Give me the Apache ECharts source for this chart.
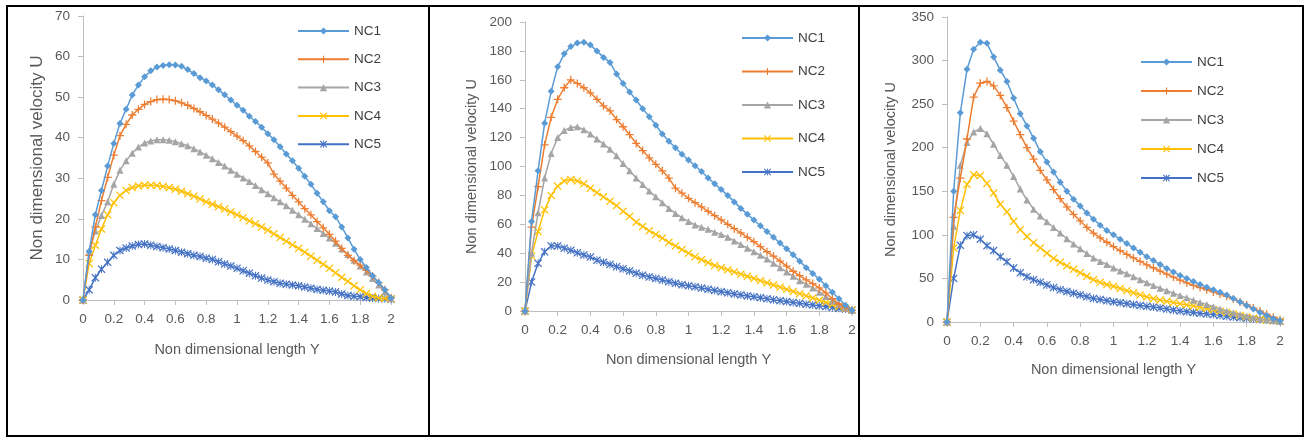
<!DOCTYPE html>
<html>
<head>
<meta charset="utf-8">
<script src="https://cdn.jsdelivr.net/npm/echarts@6/dist/echarts.min.js"></script>
<style>
  html, body { margin: 0; padding: 0; background: #fff; }
  #chart { width: 1306px; height: 439px; }
</style>
</head>
<body>
<div id="chart"></div>
<script>
// x positions (non dimensional length Y)
const xValues = [0, 0.04, 0.08, 0.12, 0.16, 0.2, 0.24, 0.28, 0.32, 0.36, 0.4, 0.44, 0.48, 0.52, 0.56, 0.6, 0.64, 0.68, 0.72, 0.76,
  0.8, 0.84, 0.88, 0.92, 0.96, 1, 1.04, 1.08, 1.12, 1.16, 1.2, 1.24, 1.28, 1.32, 1.36, 1.4, 1.44, 1.48, 1.52, 1.56,
  1.6, 1.64, 1.68, 1.72, 1.76, 1.8, 1.84, 1.88, 1.92, 1.96, 2]

const seriesNames = ['NC1', 'NC2', 'NC3', 'NC4', 'NC5']

// panel 1
const p1NC1 = [0, 12, 21, 27, 33, 38.6, 43.5, 47, 50.5, 53, 55, 56.5, 57.4, 57.8, 58, 57.9, 57.6, 56.8, 55.8, 54.8, 54, 53, 51.8, 50.6, 49.3, 48, 46.8, 45.3, 44, 42.6, 41, 39.5, 37.8, 36, 34.3, 32.5, 30.5, 28.5, 26.3, 24.2, 22, 20.5, 18, 15.3, 12.5, 10, 8, 6, 4.3, 2.5, 0.5]
const p1NC2 = [0, 11, 18, 24.5, 30.2, 35.7, 40.5, 43.3, 45.6, 47, 48.2, 48.9, 49.4, 49.5, 49.4, 49.1, 48.6, 48, 47.2, 46.4, 45.5, 44.6, 43.6, 42.6, 41.5, 40.4, 39.3, 38, 36.6, 35.2, 33.8, 31, 29.3, 27.6, 25.8, 24.2, 22.5, 21, 19.3, 17.8, 16.2, 14.5, 12.7, 11, 9.7, 8.6, 7.3, 5.9, 4.3, 2.5, 0.5]
const p1NC3 = [0, 12, 17, 20.8, 24.2, 28.5, 32, 34.3, 36.2, 37.7, 38.7, 39.2, 39.5, 39.5, 39.4, 39, 38.5, 38, 37.3, 36.5, 35.7, 34.8, 33.9, 33, 32, 31, 30.1, 29.2, 28.2, 27.2, 26.2, 25.2, 24.2, 23.2, 22.1, 21, 19.9, 18.8, 17.6, 16.4, 15.3, 14, 12.6, 11.2, 9.8, 8.4, 6.9, 5.3, 3.7, 2, 0.5]
const p1NC4 = [0, 9, 13.5, 17.5, 21, 24, 25.8, 27, 27.7, 28.1, 28.3, 28.3, 28.2, 28, 27.7, 27.3, 26.8, 26.2, 25.6, 24.9, 24.2, 23.6, 23, 22.4, 21.7, 21, 20.3, 19.5, 18.8, 18, 17.2, 16.3, 15.4, 14.5, 13.6, 12.7, 11.8, 10.8, 9.8, 8.8, 7.8, 6.7, 5.6, 4.6, 3.5, 2.5, 1.6, 0.9, 0.5, 0.4, 0.3]
const p1NC5 = [0, 2.5, 5.5, 7.6, 9.3, 11, 12.2, 12.8, 13.3, 13.7, 13.8, 13.5, 13.2, 12.9, 12.6, 12.2, 11.8, 11.4, 11, 10.7, 10.3, 10, 9.4, 8.9, 8.4, 7.8, 7.2, 6.6, 6, 5.4, 4.9, 4.5, 4.1, 3.9, 3.7, 3.5, 3.2, 2.9, 2.6, 2.4, 2.2, 2, 1.5, 1.1, 0.9, 0.8, 0.6, 0.5, 0.4, 0.3, 0.2]

// panel 2
const p2NC1 = [0, 62, 97, 130, 152, 169, 178, 183, 185.5, 186, 184, 180, 175.5, 172, 164, 157.5, 151.5, 146, 140, 134.5, 128.5, 122.5, 117.5, 113, 108.5, 104.5, 100.5, 96.5, 92, 88, 84, 80, 75.5, 71, 67, 63, 59, 55, 51, 47, 43, 39, 34.5, 30, 26, 22, 17.5, 13, 8.5, 4, 0.5]
const p2NC2 = [0, 58, 86, 115, 134, 146.5, 154.5, 160, 157.5, 154.5, 151, 146.5, 142, 138.5, 132.5, 127.5, 122, 116, 111, 106, 101.5, 97, 92, 85, 81.5, 78, 75, 72, 69, 66, 63, 60, 57, 54, 51, 48, 44.5, 41, 38, 34.5, 31, 27.5, 24.5, 21.5, 19, 16, 12.5, 8.5, 5, 2.5, 0.5]
const p2NC3 = [0, 40, 68, 92, 109, 120, 125, 127, 127.5, 125.5, 122.5, 119, 115.5, 112, 107.5, 102, 97, 92, 87.5, 83, 79, 75, 71, 67.5, 64.5, 62, 59.5, 58, 56.5, 54.5, 53, 51, 48.5, 46, 43.5, 41, 38.5, 36, 33, 30, 27, 24, 21, 18.5, 16, 13, 10, 7, 4.5, 2, 0.5]
const p2NC4 = [0, 38, 55, 70, 80, 86.5, 90, 91, 90, 88, 85, 82, 79, 76, 73, 69, 65.5, 61.5, 58.5, 55.5, 53, 50.5, 47.5, 45, 42.5, 40, 37.5, 35.5, 33.5, 31.5, 30, 28.5, 27, 25.5, 24, 22.5, 21, 19.5, 18, 16.5, 15, 13.5, 12, 10.5, 9, 7.5, 6, 4.5, 3, 1.8, 0.7]
const p2NC5 = [0, 20, 33, 41, 45, 45, 43.5, 42, 40.3, 38.8, 37.3, 35.2, 33.7, 32.2, 30.7, 29.2, 27.7, 26.2, 24.8, 23.6, 22.5, 21.4, 20.3, 19.2, 18.1, 17.4, 16.7, 15.9, 15, 14.2, 13.4, 12.6, 11.8, 11.1, 10.4, 9.8, 9.2, 8.4, 7.7, 7.1, 6.5, 5.9, 5.3, 4.7, 4.2, 3.6, 3.1, 2.5, 1.9, 1.3, 0.7]

// panel 3
const p3NC1 = [0, 150, 240, 290, 313, 321, 320, 304, 289, 276, 257, 239, 225, 211, 195.5, 183.5, 172, 160.5, 150, 141, 133, 125, 118, 111, 105, 100, 95, 90, 85, 80, 75, 70.5, 66, 61.5, 57.5, 53.5, 50, 46.5, 43, 40, 37, 34, 31, 27, 23, 19, 15, 11, 7.5, 4, 1.5]
const p3NC2 = [0, 120, 165, 210, 258, 274, 276, 271, 260, 246, 230.5, 215, 200, 187, 174, 163, 152, 141.5, 132, 123.5, 116, 108.5, 102, 96.5, 91.5, 86.5, 82, 77.5, 73.5, 69.5, 65.5, 62, 58.5, 55, 51.5, 48, 45, 42, 39.5, 37, 34.5, 32, 29.5, 26.5, 23, 19.5, 16, 12.5, 9, 5.5, 2.5]
const p3NC3 = [0, 110, 180, 206, 218, 222, 216, 204, 191, 180, 167, 152.5, 140, 129.5, 121.5, 115, 108.5, 102, 95.5, 89.5, 84, 78.5, 73.5, 69.5, 66, 62, 58.5, 55.3, 52, 48.5, 45, 41.8, 38.8, 35.8, 33, 30.3, 27.7, 25.1, 22.5, 20, 17.5, 15, 12.7, 10.5, 8.7, 7, 5.3, 3.8, 2.5, 1.6, 1]
const p3NC4 = [0, 85, 128, 158, 169, 168, 159, 148, 135, 126.5, 115.5, 106, 98, 91, 85, 79, 73, 68.5, 64.5, 60.5, 56.5, 52.5, 48.5, 45.5, 43, 41, 38.5, 36, 33.5, 31, 28.7, 26.8, 25.2, 23.7, 22.3, 21, 19.7, 18.4, 17, 15.5, 14, 12.4, 10.8, 9.2, 7.5, 5.8, 4.3, 3, 2, 1.3, 1]
const p3NC5 = [0, 50, 88, 99, 100, 95, 87.5, 82, 75, 69, 62, 56.5, 52, 48.5, 45.5, 42.5, 39.5, 37, 35, 33, 31, 29, 27, 25.7, 24.5, 23.2, 22, 21, 20, 19, 18, 17.2, 16.2, 15, 13.8, 12.7, 11.8, 10.9, 10, 9.2, 8.5, 7.6, 6.6, 5.7, 5, 4.3, 3.5, 2.8, 2.2, 1.6, 1]

const yMaxes = [70, 200, 350]
const yIntervals = [10, 20, 50]

const colors = ['#5B9BD5', '#ED7D31', '#A5A5A5', '#FFC000', '#4472C4']
const plusPath = 'path://M4.2,0H5.8V4.2H10V5.8H5.8V10H4.2V5.8H0V4.2H4.2Z'
const crossPath = 'path://M1.1,0L5,3.9L8.9,0L10,1.1L6.1,5L10,8.9L8.9,10L5,6.1L1.1,10L0,8.9L3.9,5L0,1.1Z'
const starPath = 'path://M1.1,0L5,3.9L8.9,0L10,1.1L6.1,5L10,8.9L8.9,10L5,6.1L1.1,10L0,8.9L3.9,5L0,1.1Z M4.4,0H5.6V10H4.4Z'
const symbols = ['diamond', plusPath, 'triangle', crossPath, starPath]
const symbolSizes = [7, 8, 7, 8, 8]

const font = "'Liberation Sans', Arial, sans-serif"
const textColor = '#595959'

// grid boxes in pixels, one per panel
const grids = [
  { left: 83, top: 16, width: 308, height: 284 },
  { left: 525, top: 22, width: 327, height: 289 },
  { left: 947, top: 17, width: 333, height: 305 }
]

const panels = [
  [p1NC1, p1NC2, p1NC3, p1NC4, p1NC5],
  [p2NC1, p2NC2, p2NC3, p2NC4, p2NC5],
  [p3NC1, p3NC2, p3NC3, p3NC4, p3NC5]
]

const yNameSizes = [17, 14.5, 14.5]
const yNameGaps = [37, 46, 49]
const xNameGaps = [42, 41, 40]

// legend boxes (no padding)
const legendPos = [
  { left: 297, top: 24, itemGap: 14.3 },
  { left: 741, top: 31, itemGap: 19.5 },
  { left: 1140, top: 55, itemGap: 15 }
]

const chart = echarts.init(document.getElementById('chart'))

const xAxis = grids.map((g, i) => ({
  type: 'value',
  gridIndex: i,
  min: 0,
  max: 2,
  interval: 0.2,
  name: 'Non dimensional length Y',
  nameLocation: 'middle',
  nameGap: xNameGaps[i],
  nameTextStyle: { fontFamily: font, fontSize: 14.5, color: textColor },
  axisLine: { lineStyle: { color: '#BFBFBF', width: 1 } },
  axisTick: { show: true, length: 5, lineStyle: { color: '#BFBFBF' } },
  axisLabel: { fontFamily: font, fontSize: 13.5, color: textColor, margin: 12 },
  splitLine: { show: false }
}))

const yAxis = grids.map((g, i) => ({
  type: 'value',
  gridIndex: i,
  min: 0,
  max: yMaxes[i],
  interval: yIntervals[i],
  name: 'Non dimensional velocity U',
  nameLocation: 'middle',
  nameGap: yNameGaps[i],
  nameTextStyle: { fontFamily: font, fontSize: yNameSizes[i], color: textColor },
  axisLine: { show: true, lineStyle: { color: '#BFBFBF', width: 1 } },
  axisTick: { show: true, length: 5, lineStyle: { color: '#BFBFBF' } },
  axisLabel: { fontFamily: font, fontSize: 13.5, color: textColor, margin: 13 },
  splitLine: { show: false }
}))

const series = []
panels.forEach((panel, p) => {
  panel.forEach((values, k) => {
    series.push({
      name: seriesNames[k],
      type: 'line',
      xAxisIndex: p,
      yAxisIndex: p,
      data: xValues.map((x, j) => [x, values[j]]),
      symbol: symbols[k],
      symbolSize: symbolSizes[k],
      lineStyle: { color: colors[k], width: 1.5 },
      itemStyle: { color: colors[k] },
      z: 10 - k,
      emphasis: { disabled: true }
    })
  })
})

const legend = legendPos.map(l => ({
  orient: 'vertical',
  left: l.left,
  top: l.top,
  padding: 0,
  itemWidth: 51,
  itemHeight: 9,
  itemGap: l.itemGap,
  selectedMode: false,
  data: seriesNames,
  textStyle: { fontFamily: font, fontSize: 13.5, color: '#404040', lineHeight: 14 }
}))

chart.setOption({
  animation: false,
  backgroundColor: '#fff',
  grid: grids,
  xAxis: xAxis,
  yAxis: yAxis,
  legend: legend,
  series: series,
  graphic: [
    { type: 'rect', shape: { x: 7, y: 6, width: 1296, height: 430 }, style: { fill: 'none', stroke: '#000', lineWidth: 2 } },
    { type: 'line', shape: { x1: 429, y1: 6, x2: 429, y2: 436 }, style: { stroke: '#000', lineWidth: 2 } },
    { type: 'line', shape: { x1: 859, y1: 6, x2: 859, y2: 436 }, style: { stroke: '#000', lineWidth: 2 } }
  ]
})
</script>
</body>
</html>
